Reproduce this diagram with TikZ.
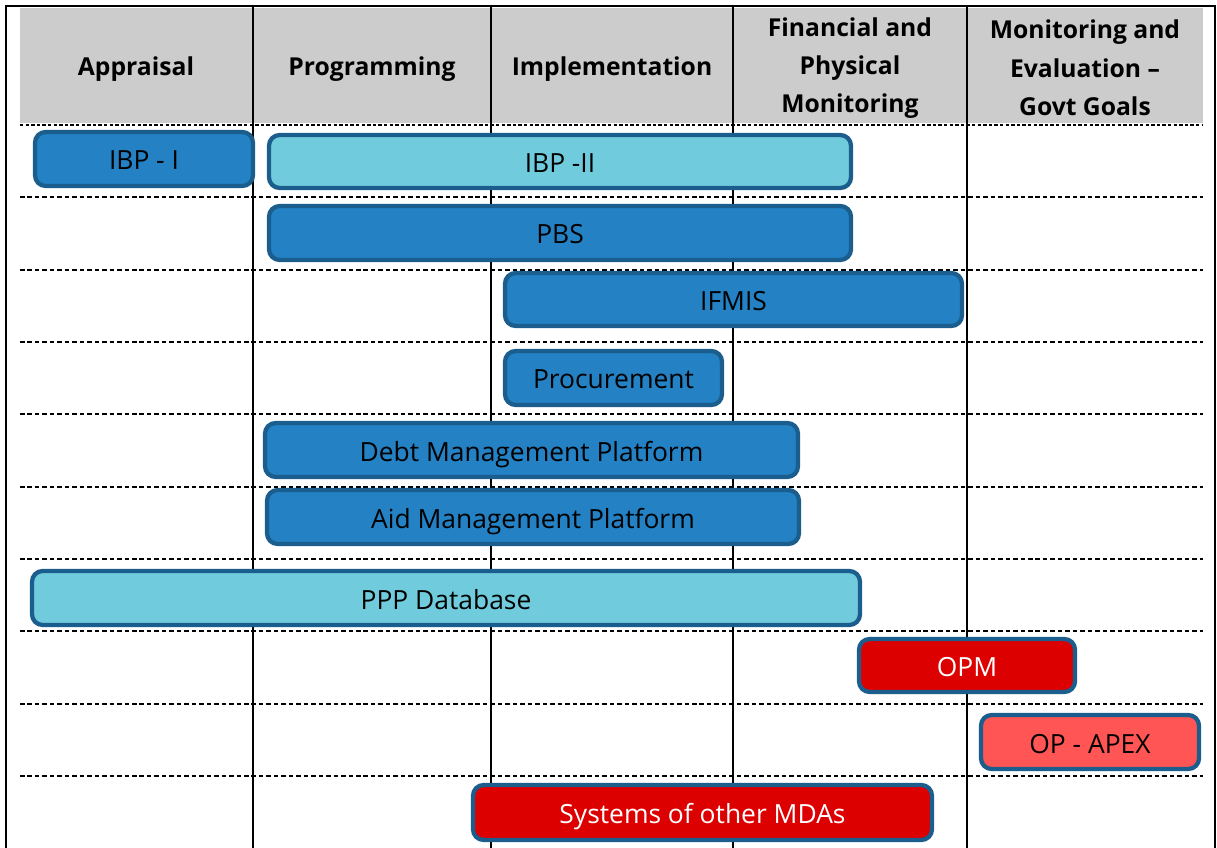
\documentclass[tikz,border=0pt]{standalone}
\usepackage{fontspec}
\setmainfont{Open Sans}
\usetikzlibrary{positioning}

\definecolor{headgray}{HTML}{CCCCCC}
\definecolor{barblue}{HTML}{2381C4}
\definecolor{barcyan}{HTML}{70CCDD}
\definecolor{barred}{HTML}{DD0000}
\definecolor{barpink}{HTML}{FF5555}
\definecolor{barline}{HTML}{1B5E8D}

\begin{document}
\begin{tikzpicture}[x=0.75pt,y=-0.75pt,
    colhead/.style={font=\bfseries\fontsize{18.5}{28.8}\selectfont, align=center, inner sep=0pt},
    rowline/.style={black, line width=1pt, dash pattern=on 3.4pt off 2.2pt},
    bar/.style={draw=barline, line width=3.2pt, rounded corners=8pt, rectangle,
      inner sep=0pt, text height=18pt, text depth=1.5pt, font=\fontsize{19.8}{22}\selectfont}]

  \useasboundingbox (0,0) rectangle (1217,848);

  % header band
  \fill [headgray] (20,8) rectangle (1203,123);
  \node [colhead] at (136,69) (head_appraisal) {Appraisal};
  \node [colhead] at (372,69) (head_programming) {Programming};
  \node [colhead] at (612,69) (head_implementation) {Implementation};
  \node [colhead] at (850,68) (head_financial) {Financial and\\Physical\\Monitoring};
  \node [colhead] at (1085,68) (head_monitoring) {Monitoring and\\Evaluation --\\Govt Goals};

  % frame and column dividers
  \draw [line width=2pt] (6,848) -- (6,6) -- (1215,6) -- (1215,848);
  \foreach \x in {253,491,733,967}
  {
    \draw [line width=1.5pt] (\x,6) -- (\x,848);
  }

  % row separators
  \draw [black, line width=1.6pt, dash pattern=on 2.6pt off 1.6pt] (20,125) -- (1203,125);
  \foreach \y in {197,270,342,414,487,559,631,704,776}
  {
    \draw [rowline] (20,\y) -- (1203,\y);
  }

  % bars
  \foreach \nm/\cx/\cy/\w/\h/\f/\t/\lbl in {%
      ibp_one/144/159/218/54/barblue/black/{IBP - I},
      ibp_two/560/161.5/582/53/barcyan/black/{IBP -II},
      pbs/560/233/582/54/barblue/black/{PBS},
      ifmis/733.5/299.5/457/53/barblue/black/{IFMIS},
      procurement/613.5/378/217/54/barblue/black/{Procurement},
      debt_mgmt/531.5/450/533/54/barblue/black/{Debt Management Platform},
      aid_mgmt/533/517/532/54/barblue/black/{Aid Management Platform},
      ppp_db/446/598/828/54/barcyan/black/{PPP Database},
      opm/967/665.5/216/53/barred/white/{OPM},
      op_apex/1090/742/218/54/barpink/black/{OP - APEX},
      other_mdas/702.5/812.5/459/55/barred/white/{Systems of other MDAs}}
  {
    \node [bar, fill=\f, text=\t, minimum width={\w*0.75pt}, minimum height={\h*0.75pt}]
      at (\cx,\cy) (\nm) {\lbl};
  }

\end{tikzpicture}
\end{document}
